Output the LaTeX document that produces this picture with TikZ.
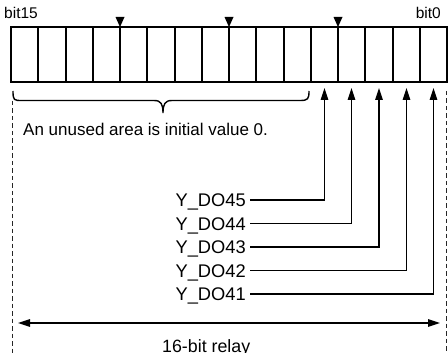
\documentclass[tikz,border=0pt]{standalone}
\usepackage{fontspec}
\setmainfont{Liberation Sans}
\usetikzlibrary{arrows.meta,calc}
\begin{document}
\begin{tikzpicture}[x=1pt,y=-1pt,
  ln/.style={draw=black, line width=1.4pt},
  cell/.style={draw=black, line width=1.4pt, minimum height=55pt, inner sep=0pt, outer sep=0pt, anchor=north west},
  tipend/.style={-{Triangle[length=12pt,width=7.5pt]}},
  dbl/.style={{Triangle[length=12pt,width=7.5pt]}-{Triangle[length=12pt,width=7.5pt]}},
  guide/.style={draw=black!85, line width=1.4pt, dash pattern=on 4.5pt off 3pt},
  txt/.style={font=\fontsize{17}{20}\selectfont, inner sep=0pt},
  sig/.style={font=\fontsize{18.3}{21}\selectfont, inner sep=0pt},
  small/.style={font=\fontsize{15.5}{18}\selectfont, inner sep=0pt},
  nibmark/.style={fill=black}]
\useasboundingbox (0,0) rectangle (448,353);
\clip (0,0) rectangle (448,353);
% register cells, bit15 on the left (borders snapped to whole pixels)
\foreach \k in {0,...,15} {
  \pgfmathtruncatemacro\b{15-\k}
  \pgfmathsetmacro\xa{round(11+27.25*\k)}
  \pgfmathsetmacro\xb{round(11+27.25*(\k+1))}
  \node[cell, minimum width={(\xb-\xa)*1pt}] (c\b) at (\xa,27) {};
}
% nibble marks
\foreach \c in {c12,c8,c4} {
  \fill[nibmark] (\c.north east) -- ++(-4.5,-10) -- ++(9,0) -- cycle;
}
% bit labels
\node[small, anchor=base west] (b15) at (4,19) {bit15};
\node[small, anchor=base east] (b0) at (441,19) {bit0};
% brace over unused area
\draw[ln] (13,91) .. controls (13,100.5) and (14,100.5) .. (22,100.5)
  -- (154,100.5) .. controls (161,100.5) and (163,104) .. (163,113)
  .. controls (163,104) and (165,100.5) .. (172,100.5)
  -- (300,100.5) .. controls (308,100.5) and (309,99) .. (309,91);
\node[txt, anchor=base west] (unused) at (23,136) {An unused area is initial value 0.};
% dashed guides
\coordinate (gl1) at (12.5,101);
\coordinate (gl2) at (12.5,360);
\coordinate (gr1) at (446.5,91);
\coordinate (gr2) at (446.5,360);
\draw[guide] (gl1) -- (gl2);
\draw[guide] (gr1) -- (gr2);
% signal labels and arrows
\foreach \n/\c/\y in {45/c4/200,44/c3/223.5,43/c2/247,42/c1/270.5,41/c0/294} {
  \node[sig, anchor=base east] (y\n) at (246,\y+6.5) {Y\_DO\n};
  \coordinate (s\n) at (250,\y);
  \coordinate (t\n) at ($(\c.south)+(0,6)$);
  \draw[ln, tipend] (s\n) -| (t\n);
}
% 16-bit span
\coordinate (al) at (18,323);
\coordinate (ar) at (440,323);
\draw[ln, dbl] (al) -- (ar);
\node[txt, anchor=base west, font=\fontsize{17.8}{20}\selectfont] (relay) at (162,352.5) {16-bit relay};
\end{tikzpicture}
\end{document}
